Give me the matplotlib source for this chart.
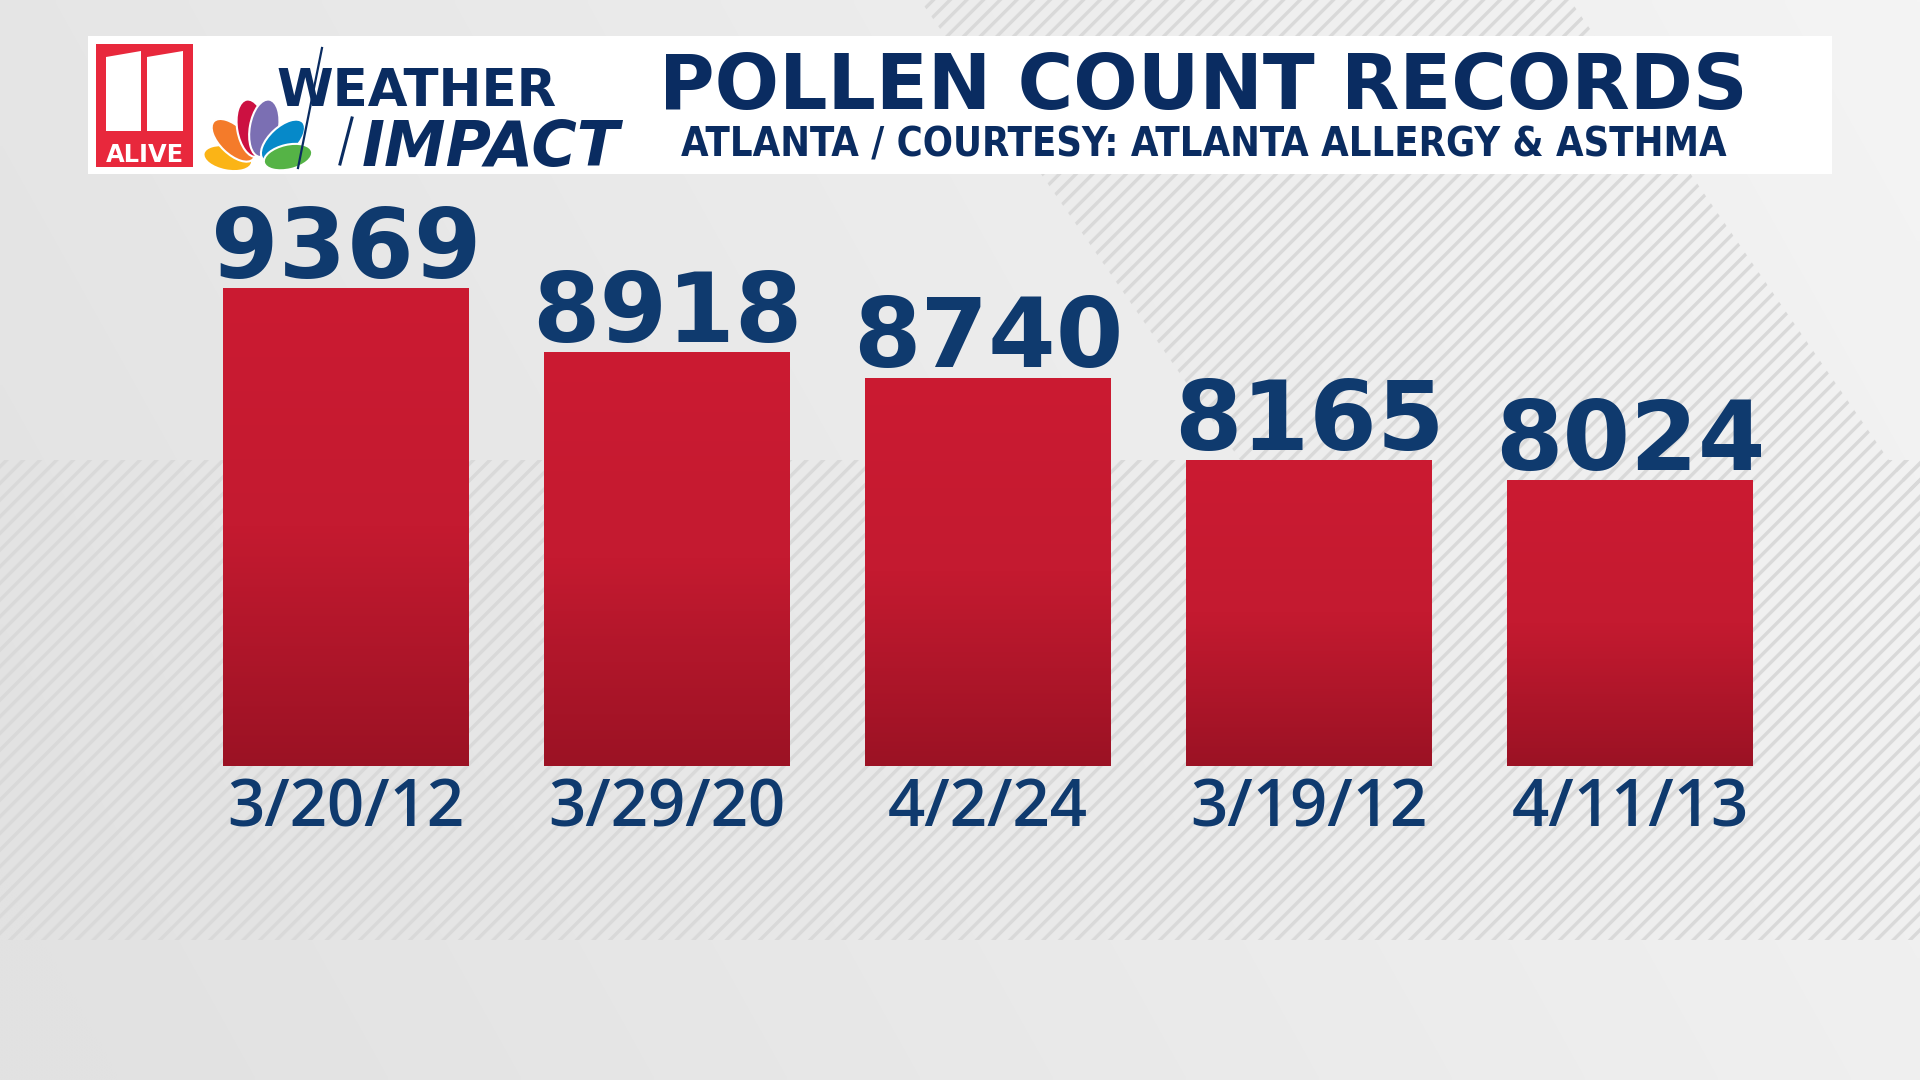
import numpy as np
import matplotlib
matplotlib.use('Agg')
import matplotlib.pyplot as plt
from matplotlib import font_manager
from matplotlib.patches import Rectangle, Polygon, Ellipse
from matplotlib.colors import LinearSegmentedColormap

# ---------------- data ----------------
dates = ["3/20/12", "3/29/20", "4/2/24", "3/19/12", "4/11/13"]
counts = [9369, 8918, 8740, 8165, 8024]
title = "POLLEN COUNT RECORDS"
subtitle = "ATLANTA / COURTESY: ATLANTA ALLERGY & ASTHMA"

W, H = 1920, 1080
NAVY = '#0f3a6e'
TITLE_NAVY = '#0a2c61'

plt.rcParams['hatch.linewidth'] = 2.4
fig = plt.figure(figsize=(19.2, 10.8), dpi=100)
renderer = fig.canvas.get_renderer()

avail = {f.name for f in font_manager.fontManager.ttflist}
def pick(*names):
    for n in names:
        if n in avail:
            return n
    return 'DejaVu Sans'

def fit(t, target_w):
    w = t.get_window_extent(renderer).width
    t.set_fontsize(t.get_fontsize() * target_w / w)

# ---------------- background ----------------
bg = fig.add_axes([0, 0, 1, 1], zorder=0)
bg.set_xlim(0, W); bg.set_ylim(H, 0); bg.axis('off')
gx = np.linspace(0, 1, 384)
gy = np.linspace(0, 1, 216)
X, Y = np.meshgrid(gx, gy)
lum = (226 + 18 * np.clip(0.8 * X + 0.25 * (1 - Y) - 0.05, 0, 1)) / 255.0
img = np.dstack([lum, lum, lum])
bg.imshow(img, extent=(0, W, H, 0), aspect='auto', zorder=0, interpolation='bilinear')

stripe_kw = dict(closed=True, facecolor='none', edgecolor='#d9d9d9', lw=0, hatch='//', zorder=1)
bg.add_patch(Polygon([(0, 460), (W, 460), (W, 940), (0, 940)], **stripe_kw))
bg.add_patch(Polygon([(920, 0), (1570, 0), (W, 505), (W, 460), (1240, 460)], **stripe_kw))
bg.set_xlim(0, W); bg.set_ylim(H, 0)

# ---------------- header ----------------
bg.add_patch(Rectangle((88, 36), 1744, 138, facecolor='white', edgecolor='none', zorder=3))

t1 = bg.text(1203, 109, title, ha='center', va='baseline', fontsize=57,
             fontweight='bold', family='DejaVu Sans', color=TITLE_NAVY, zorder=5)
fit(t1, 1088)
sub_font = pick('Liberation Sans Narrow', 'DejaVu Sans')
t2 = bg.text(1204, 157, subtitle, ha='center', va='baseline', fontsize=34,
             fontweight='bold', family=sub_font, fontstretch='condensed',
             color=TITLE_NAVY, zorder=5)
fit(t2, 1048)

# 11 ALIVE logo
bg.add_patch(Rectangle((96, 44), 97, 123, facecolor='#e8283c', edgecolor='none', zorder=4))
bg.add_patch(Polygon([(106, 57), (141, 51), (141, 131), (106, 131)], closed=True,
                     facecolor='white', edgecolor='none', zorder=5))
bg.add_patch(Polygon([(147, 57), (183, 51), (183, 131), (147, 131)], closed=True,
                     facecolor='white', edgecolor='none', zorder=5))
ta = bg.text(144.5, 162, "ALIVE", ha='center', va='baseline', fontsize=20,
             fontweight='bold', family=sub_font, color='white', zorder=6)
fit(ta, 78)

# NBC peacock
base_x, base_y = 258, 164
feathers = [('#fbb416', 169, 56), ('#f47b2a', 136, 62), ('#cc1141', 100, 66),
            ('#7b6fb3', 80, 66), ('#0689c9', 43, 62), ('#55b346', 13, 56)]
for col, ang, L in feathers:
    a = np.deg2rad(ang)
    cx = base_x + np.cos(a) * L * 0.55
    cy = base_y - np.sin(a) * L * 0.55
    bg.add_patch(Ellipse((cx, cy), L * 0.88, L * 0.44, angle=-ang, facecolor=col,
                         edgecolor='white', lw=1.5, zorder=5))

# WEATHER IMPACT wordmark
logo_font = pick('Liberation Sans Narrow', 'DejaVu Sans')
tw = bg.text(276, 106, "WEATHER", ha='left', va='baseline', fontsize=40,
             fontweight='bold', family=logo_font, color=TITLE_NAVY, zorder=5)
fit(tw, 280)
ti = bg.text(362, 166, "IMPACT", ha='left', va='baseline', fontsize=46,
             fontweight='bold', fontstyle='italic', family='DejaVu Sans',
             color=TITLE_NAVY, zorder=5)
fit(ti, 258)
bg.plot([322, 298], [48, 168], color=TITLE_NAVY, lw=1.6, zorder=6)
bg.plot([352, 340], [118, 164], color=TITLE_NAVY, lw=2.2, zorder=6)
bg.set_xlim(0, W); bg.set_ylim(H, 0)

# ---------------- bars ----------------
base_px = 766          # pixel row of bar baseline (from top)
top_px = 150
spacing = 321
left_px = 346 - spacing / 2
ppu = 0.1428           # pixels per count
base_val = 6022

ax = fig.add_axes([left_px / W, (H - base_px) / H, 5 * spacing / W, (base_px - top_px) / H],
                  zorder=2)
ax.patch.set_alpha(0)
for s in ax.spines.values():
    s.set_visible(False)

x = np.arange(len(counts))
vals = np.array(counts)
bw = 0.766
bars = ax.bar(x, vals - base_val, bottom=base_val, width=bw, color='none', edgecolor='none')

cmap = LinearSegmentedColormap.from_list('redgrad', ['#9b1224', '#c41a30', '#cb1b32'])
grad = np.linspace(0, 1, 256).reshape(-1, 1)
for b, xi, v in zip(bars, x, vals):
    im = ax.imshow(grad, extent=(xi - bw / 2, xi + bw / 2, base_val, v), origin='lower',
                   aspect='auto', cmap=cmap, zorder=2, interpolation='bilinear')
    im.set_clip_path(b)
    ax.annotate(f"{v}", (xi, v), xytext=(0, 7.5), textcoords='offset points',
                ha='center', va='baseline', fontsize=70, fontweight='bold',
                family='DejaVu Sans', color=NAVY, zorder=4, annotation_clip=False)

ax.set_xlim(-0.5, 4.5)
ax.set_ylim(base_val, base_val + (base_px - top_px) / ppu)
ax.set_yticks([])
date_font = pick('Open Sans', 'DejaVu Sans')
ax.set_xticks(x)
ax.set_xticklabels(dates, fontsize=47, fontweight='semibold', family=date_font, color=NAVY)
ax.tick_params(axis='x', length=0, pad=8)

fig.savefig('out.png', dpi=100)
